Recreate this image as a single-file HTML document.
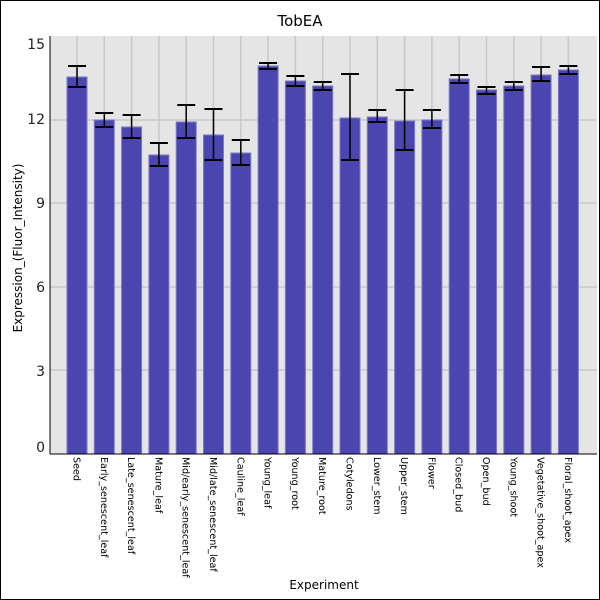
<!DOCTYPE html>
<html><head><style>body{margin:0;background:#fff}svg{display:block}</style></head><body>
<svg width="600" height="600" xmlns="http://www.w3.org/2000/svg" font-family="DejaVu Sans, Liberation Sans, sans-serif">
<rect x="0.5" y="0.5" width="599" height="599" fill="#fff" stroke="#000"/>
<rect x="50" y="36" width="547" height="418" fill="#e5e5e5"/>
<g stroke="#c8c8c8" stroke-width="1.5">
<line x1="50" x2="597" y1="120" y2="120"/><line x1="50" x2="597" y1="203" y2="203"/><line x1="50" x2="597" y1="287" y2="287"/><line x1="50" x2="597" y1="370" y2="370"/>
</g>
<g id="v" stroke="#c8c8c8" stroke-width="1.5"></g>
<g id="bars"></g>
<line x1="50" y1="36" x2="50" y2="454" stroke="#000"/>
<line x1="50" y1="454" x2="597" y2="454" stroke="#000"/>
<g font-size="14" text-anchor="end" fill="#222">
<text x="45" y="49">15</text><text x="45" y="124">12</text><text x="45" y="208">9</text><text x="45" y="292">6</text><text x="45" y="376">3</text><text x="45" y="452">0</text>
</g>
<text x="300" y="26" font-size="15" text-anchor="middle">TobEA</text>
<text x="324" y="589" font-size="12" text-anchor="middle">Experiment</text>
<text transform="translate(22,248) rotate(-90)" font-size="12" text-anchor="middle">Expression_(Fluor_Intensity)</text>
<g id="xl" font-size="9.6"></g>
<script>
var d=[["Seed",77,66,87],["Early_senescent_leaf",120,113,127],["Late_senescent_leaf",127,115,138],["Mature_leaf",155,143,166],["Mid/early_senescent_leaf",122,105,138],["Mid/late_senescent_leaf",135,109,160],["Cauline_leaf",153,140,165],["Young_leaf",66,63,69],["Young_root",81,76,86],["Mature_root",86,82,90],["Cotyledons",118,74,160],["Lower_stem",117,110,122],["Upper_stem",121,90,150],["Flower",120,110,128],["Closed_bud",79,75,83],["Open_bud",90,87,94],["Young_shoot",86,82,90],["Vegetative_shoot_apex",75,67,81],["Floral_shoot_apex",70,66,74]];
var ns="http://www.w3.org/2000/svg",v=document.getElementById("v"),b=document.getElementById("bars"),xl=document.getElementById("xl");
function el(p,t,a){var e=document.createElementNS(ns,t);for(var k in a)e.setAttribute(k,a[k]);p.appendChild(e);return e}
d.forEach(function(r,i){var c=77+27.3*i;
el(v,"line",{x1:c,x2:c,y1:36,y2:454});
el(b,"rect",{x:c-10,y:r[1],width:20,height:454-r[1],fill:"#4b45b0",stroke:"#7c78c8","stroke-width":1});
el(b,"line",{x1:c,x2:c,y1:r[2],y2:r[3],stroke:"#000","stroke-width":1.5});
el(b,"line",{x1:c-9,x2:c+9,y1:r[2],y2:r[2],stroke:"#000","stroke-width":2});
el(b,"line",{x1:c-9,x2:c+9,y1:r[3],y2:r[3],stroke:"#000","stroke-width":2});
var t=el(xl,"text",{transform:"translate("+(c-3.5)+",457) rotate(90)"});t.textContent=r[0];});
</script>
</svg>
</body></html>
